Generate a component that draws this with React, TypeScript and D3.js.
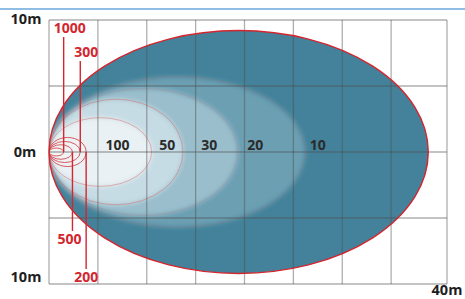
import React from "react";
import * as d3 from "d3";

// isolux contours (lux) in metres
const luxLevels = [10, 20, 30, 50, 100, 200, 300, 500, 1000];
const reachM = [38.8, 26.2, 19.3, 13.7, 10.5, 3.8, 3.2, 2.4, 1.5];
const halfWidthM = [9.2, 5.7, 4.8, 4.0, 2.6, 1.1, 0.8, 0.55, 0.3];
const bandColors = ["#43829a", "#6c9fb2", "#9abecc", "#c6dce4", "#e9f1f4", "#f3f5f6", "#f3f5f6", "#f3f5f6", "#f5f6f6"];

// zone labels on the centre line
const zoneLabels = ["100", "50", "30", "20", "10"];
const zoneLabelX = [7.0, 12.1, 16.4, 21.1, 27.5];

// small contours near the lamp with leader lines
const leaderLux = [1000, 300, 500, 200];
const leaderSide = ["top", "top", "bottom", "bottom"];

const xTicks = [0, 5, 10, 15, 20, 25, 30, 35];
const yTicks = [10, 5, 0, -5, -10];

const W = 465;
const H = 299;

export default function App() {
  const x = d3.scaleLinear().domain([0, 40]).range([49, 440]);
  const y = d3.scaleLinear().domain([10, -10]).range([20, 284]);
  const frameRight = 447;
  const red = "#d3262f";
  const font = "'Open Sans', 'Noto Sans', sans-serif";

  const contours = luxLevels.map((lux, i) => ({
    lux,
    cx: x(reachM[i] / 2),
    rx: (x(reachM[i]) - x(0)) / 2,
    ry: y(0) - y(halfWidthM[i]),
    fill: bandColors[i],
  }));

  return (
    <svg width={W} height={H} style={{ position: "absolute", left: 0, top: 0 }}>
      <defs>
        <filter id="soft" x="-10%" y="-10%" width="120%" height="120%">
          <feGaussianBlur stdDeviation="2.5" />
        </filter>
        <clipPath id="outer">
          <ellipse cx={contours[0].cx} cy={y(0)} rx={contours[0].rx} ry={contours[0].ry} />
        </clipPath>
      </defs>
      <rect width={W} height={H} fill="#fff" />
      <line x1={0} x2={W} y1={9} y2={9} stroke="#8fbde3" strokeWidth={2.2} />

      {/* filled beam bands */}
      <ellipse cx={contours[0].cx} cy={y(0)} rx={contours[0].rx} ry={contours[0].ry} fill={contours[0].fill} />
      <g clipPath="url(#outer)">
        <g filter="url(#soft)">
          {contours.slice(1, 5).map((c) => (
            <ellipse key={c.lux} cx={c.cx} cy={y(0)} rx={c.rx} ry={c.ry} fill={c.fill} />
          ))}
        </g>
        {contours.slice(1, 5).map((c) => (
          <ellipse key={"s" + c.lux} cx={c.cx} cy={y(0)} rx={c.rx} ry={c.ry} fill="none"
            stroke="#e06060" strokeOpacity={c.lux >= 50 ? 0.45 : 0.18} strokeWidth={1} />
        ))}
        {contours.slice(5).map((c) => (
          <ellipse key={c.lux} cx={c.cx} cy={y(0)} rx={c.rx} ry={c.ry} fill={c.fill} fillOpacity={0.4}
            stroke={red} strokeOpacity={0.75} strokeWidth={1} />
        ))}
      </g>

      {/* grid */}
      <g stroke="#4d4d4d" strokeOpacity={0.45} strokeWidth={1.3}>
        {xTicks.map((t) => (
          <line key={"x" + t} x1={x(t)} x2={x(t)} y1={y(10)} y2={y(-10)} />
        ))}
        <line x1={frameRight} x2={frameRight} y1={y(10)} y2={y(-10)} />
        {yTicks.map((t) => (
          <line key={"y" + t} x1={x(0)} x2={frameRight} y1={y(t)} y2={y(t)} />
        ))}
      </g>

      <ellipse cx={contours[0].cx} cy={y(0)} rx={contours[0].rx} ry={contours[0].ry} fill="none" stroke={red} strokeWidth={1.4} />

      {/* leader lines to the small contours */}
      {leaderLux.map((lux, i) => {
        const k = luxLevels.indexOf(lux);
        const lx = x(reachM[k]);
        const top = leaderSide[i] === "top";
        const labelY = top ? (lux === 1000 ? 33 : 57) : lux === 500 ? 244 : 282;
        return (
          <g key={lux}>
            <line x1={lx} x2={lx} y1={top ? labelY + 4 : y(0)} y2={top ? y(0) : labelY - 13}
              stroke={red} strokeWidth={1.4} />
            <text x={lx + (top ? 6 : lux === 500 ? -3 : 0)} y={labelY} textAnchor="middle"
              fontFamily={font} fontWeight={700} fontSize={14} fill={red}>
              {lux}
            </text>
          </g>
        );
      })}

      {/* zone labels */}
      {zoneLabels.map((t, i) => (
        <text key={t} x={x(zoneLabelX[i])} y={150} textAnchor="middle" fontFamily={font}
          fontWeight={700} fontSize={14} fill="#2b2b2b">
          {t}
        </text>
      ))}

      {/* axis labels */}
      <g fontFamily={font} fontWeight={700} fontSize={14.5} fill="#1e1e1e" textAnchor="middle">
        <text x={26} y={y(10) + 4}>10m</text>
        <text x={25} y={y(0) + 5}>0m</text>
        <text x={26} y={y(-10) - 2}>10m</text>
        <text x={frameRight} y={295}>40m</text>
      </g>
    </svg>
  );
}
